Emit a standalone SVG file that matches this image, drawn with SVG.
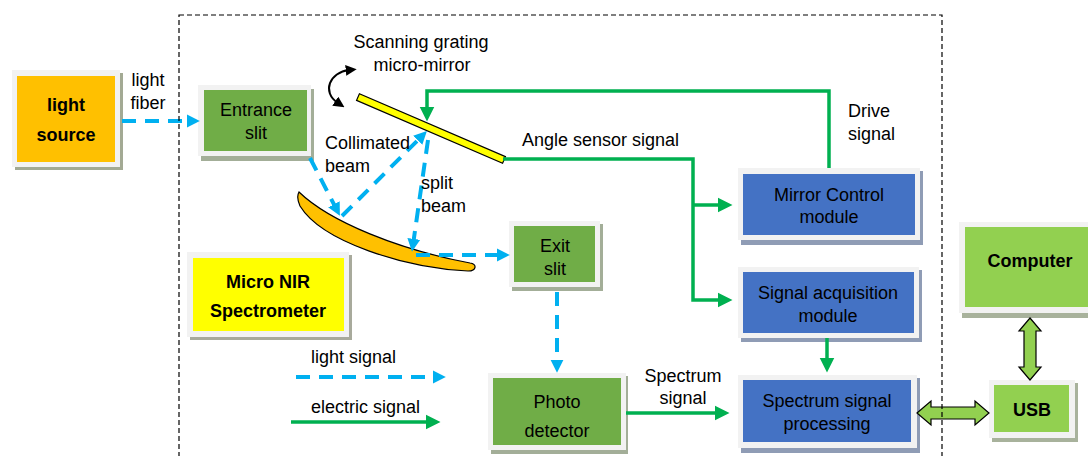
<svg xmlns="http://www.w3.org/2000/svg" width="1088" height="456" viewBox="0 0 1088 456">
<style>
text{font-family:"Liberation Sans",Arial,sans-serif;font-size:18px;fill:#000}
.b{font-weight:bold}
.c{text-anchor:middle}
.frame{fill:#f2f2f2}
.light{fill:none;stroke:#00B0F0;stroke-width:4;stroke-dasharray:14 9}
.elec{fill:none;stroke:#00B050;stroke-width:3.5}
</style>
<defs>
<marker id="ac" viewBox="0 0 10 10" refX="4" refY="5" markerUnits="userSpaceOnUse" markerWidth="13" markerHeight="14" orient="auto"><path d="M0,0L10,5L0,10z" fill="#00B0F0"/></marker>
<marker id="ag" viewBox="0 0 10 10" refX="3" refY="5" markerUnits="userSpaceOnUse" markerWidth="15" markerHeight="17" orient="auto"><path d="M0,0L10,5L0,10z" fill="#00B050"/></marker>
<marker id="ak" viewBox="0 0 10 10" refX="3" refY="5" markerUnits="userSpaceOnUse" markerWidth="11" markerHeight="11" orient="auto-start-reverse"><path d="M0,0L10,5L0,10z" fill="#000"/></marker>
</defs>

<g id="light-source">
<rect x="15" y="73" width="108" height="97" fill="#a3aa94"/>
<rect class="frame" x="12" y="70" width="108" height="97"/>
<rect x="17" y="76" width="98" height="86" fill="#FFC000"/>
<text class="b c" x="66" y="111">light</text>
<text class="b c" x="66" y="141">source</text>
</g>

<g id="entrance-slit">
<rect x="201" y="89" width="113" height="72" fill="#a3ae98"/>
<rect class="frame" x="198" y="85" width="113" height="71"/>
<rect x="204" y="90" width="103" height="61" fill="#70AD47"/>
<text class="c" x="256" y="116">Entrance</text>
<text class="c" x="256" y="139">slit</text>
</g>

<g id="exit-slit">
<rect x="512" y="224" width="91" height="67" fill="#a3ae98"/>
<rect class="frame" x="509" y="221" width="91" height="66"/>
<rect x="514" y="226" width="81" height="56" fill="#70AD47"/>
<text class="c" x="555" y="252">Exit</text>
<text class="c" x="555" y="275">slit</text>
</g>

<g id="micro-nir">
<rect x="190" y="255" width="162" height="85" fill="#a8aa9c"/>
<rect class="frame" x="187" y="252" width="162" height="85"/>
<rect x="193" y="258" width="151" height="73" fill="#FFFF00"/>
<text class="b c" x="268" y="288">Micro NIR</text>
<text class="b c" x="268" y="317">Spectrometer</text>
</g>

<g id="photo-detector">
<rect x="491" y="376" width="137" height="78" fill="#a3ae98"/>
<rect class="frame" x="488" y="373" width="138" height="77"/>
<rect x="493" y="378" width="128" height="67" fill="#70AD47"/>
<text class="c" x="557" y="408">Photo</text>
<text class="c" x="557" y="437">detector</text>
</g>

<g id="mirror-control">
<rect x="741" y="171" width="182" height="74" fill="#8f9cb5"/>
<rect class="frame" x="738" y="168" width="182" height="72"/>
<rect x="743" y="174" width="172" height="61" fill="#4472C4"/>
<text class="c" x="829" y="201">Mirror Control</text>
<text class="c" x="829" y="223">module</text>
</g>

<g id="signal-acquisition">
<rect x="741" y="270" width="181" height="72" fill="#8f9cb5"/>
<rect class="frame" x="738" y="267" width="181" height="71"/>
<rect x="743" y="272" width="171" height="61" fill="#4472C4"/>
<text class="c" x="828" y="299">Signal acquisition</text>
<text class="c" x="828" y="322">module</text>
</g>

<g id="spectrum-processing">
<rect x="741" y="378" width="179" height="75" fill="#8f9cb5"/>
<rect class="frame" x="738" y="375" width="179" height="73"/>
<rect x="743" y="380" width="168" height="62" fill="#4472C4"/>
<text class="c" x="827" y="407">Spectrum signal</text>
<text class="c" x="827" y="430">processing</text>
</g>

<g id="computer">
<rect x="962" y="225" width="140" height="93" fill="#a8b29c"/>
<rect class="frame" x="959" y="222" width="140" height="91"/>
<rect x="965" y="227" width="130" height="80" fill="#92D050"/>
<text class="b c" x="1030" y="267">Computer</text>
</g>

<g id="usb">
<rect x="992" y="383" width="86" height="59" fill="#a8b29c"/>
<rect class="frame" x="989" y="380" width="86" height="58"/>
<rect x="994" y="385" width="75" height="47" fill="#92D050"/>
<text class="b c" x="1032" y="416">USB</text>
</g>

<g id="scanning-mirror">
<rect x="-79.5" y="-3.6" width="159" height="7.2" fill="#FFFF00" stroke="#000" stroke-width="1.2" transform="translate(431,128.5) rotate(23.3)"/>
</g>

<g id="concave-mirror">
<path d="M299,192 C330,222 400,250 470,263 C477,264 477,271 468,271 C405,268 322,242 300,206 Q296,197 299,192 Z" fill="#FFC000" stroke="#000" stroke-width="1.2"/>
</g>

<g id="connectors">
<path class="light" d="M122,121 H192" marker-end="url(#ac)"/>
<path class="light" d="M310,158 L336.3,208.9" marker-end="url(#ac)"/>
<path class="light" d="M342,216 L421.4,136.6" marker-end="url(#ac)"/>
<path class="light" d="M428,140 L413.1,244.1" marker-end="url(#ac)"/>
<path class="light" d="M416,255 H502" marker-end="url(#ac)"/>
<path class="light" d="M557,292 V365" marker-end="url(#ac)"/>
<path class="light" d="M296,377 H438" marker-end="url(#ac)"/>

<path class="elec" d="M829,168 V91 H427 V111" marker-end="url(#ag)"/>
<path class="elec" d="M503,159 H693 V300 H722" marker-end="url(#ag)"/>
<path class="elec" d="M693,205 H722" marker-end="url(#ag)"/>
<path class="elec" d="M827,338 V362" marker-end="url(#ag)"/>
<path class="elec" d="M626,413 H719" marker-end="url(#ag)"/>
<path class="elec" d="M291,422 H430" marker-end="url(#ag)"/>

<path d="M349,70 C330,72 321,92 338,103" fill="none" stroke="#000" stroke-width="2" marker-start="url(#ak)" marker-end="url(#ak)"/>

<polygon points="917,413 931,401 931,407 975,407 975,401 989,413 975,425 975,419 931,419 931,425" fill="#92D050" stroke="#000" stroke-width="1.2"/>
<polygon points="1030,318 1041,331 1036,331 1036,367 1041,367 1030,380 1019,367 1024,367 1024,331 1019,331" fill="#92D050" stroke="#000" stroke-width="1.2"/>
</g>

<rect x="179" y="15" width="763" height="470" fill="none" stroke="#000" stroke-width="1.2" stroke-dasharray="5 3"/>

<g id="labels">
<text class="c" x="148" y="86">light</text>
<text class="c" x="148" y="109">fiber</text>
<text class="c" x="421" y="48">Scanning grating</text>
<text class="c" x="422" y="71">micro-mirror</text>
<text x="325" y="149">Collimated</text>
<text x="325" y="172">beam</text>
<text x="421" y="189">split</text>
<text x="421" y="212">beam</text>
<text x="522" y="146">Angle sensor signal</text>
<text x="848" y="117">Drive</text>
<text x="848" y="140">signal</text>
<text class="c" x="683" y="382">Spectrum</text>
<text class="c" x="683" y="404">signal</text>
<text x="311" y="363">light signal</text>
<text x="311" y="413">electric signal</text>
</g>
</svg>
